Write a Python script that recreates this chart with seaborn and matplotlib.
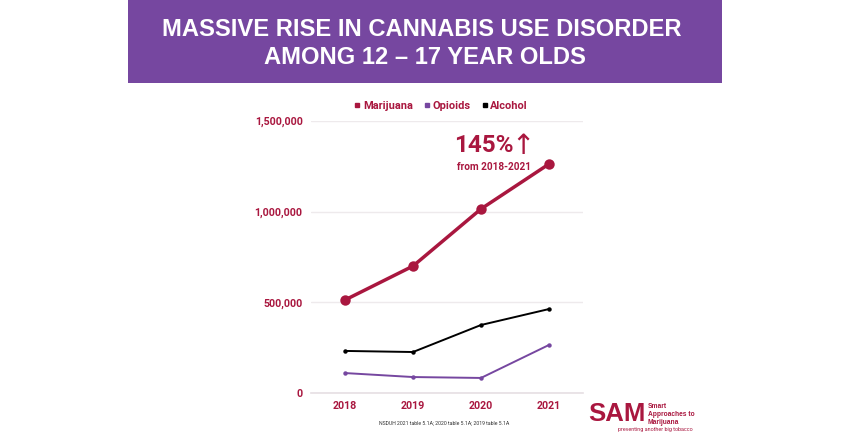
import pandas as pd
import numpy as np
import matplotlib.pyplot as plt
import seaborn as sns
from matplotlib.patches import Rectangle
from matplotlib.lines import Line2D

years = ['2018', '2019', '2020', '2021']
marijuana = [513000, 700000, 1015000, 1263000]
opioids = [110000, 88000, 83000, 265000]
alcohol = [232000, 226000, 375000, 463000]
y_ticks = [0, 500000, 1000000, 1500000]

RED = '#a9173f'
PURPLE = '#7647a0'
BLACK = '#000000'

sns.set_theme(style='white')
plt.rcParams['font.family'] = ['Roboto', 'DejaVu Sans']

df = pd.DataFrame({
    'year': years * 3,
    'value': marijuana + opioids + alcohol,
    'drug': ['Marijuana'] * 4 + ['Opioids'] * 4 + ['Alcohol'] * 4,
})

W, H = 850, 445
fig = plt.figure(figsize=(8.5, 4.45), dpi=100, facecolor='white')

# Header band
fig.add_artist(Rectangle((128 / W, 1 - 83 / H), 594 / W, 83 / H, transform=fig.transFigure,
                         facecolor=PURPLE, edgecolor='none'))
fig.text(422 / W, 1 - 29 / H, 'MASSIVE RISE IN CANNABIS USE DISORDER', color='white',
         family='Liberation Sans', fontweight='bold', fontsize=17.1, ha='center', va='center')
fig.text(425 / W, 1 - 57 / H, 'AMONG 12 – 17 YEAR OLDS', color='white',
         family='Liberation Sans', fontweight='bold', fontsize=17.1, ha='center', va='center')

ax = fig.add_axes([311 / W, 1 - 393 / H, 272 / W, 272 / H])
sns.lineplot(data=df[df.drug == 'Alcohol'], x='year', y='value', color=BLACK, lw=1.4,
             marker='o', markersize=3.2, markeredgewidth=0, ax=ax, errorbar=None)
sns.lineplot(data=df[df.drug == 'Opioids'], x='year', y='value', color=PURPLE, lw=1.4,
             marker='o', markersize=3.2, markeredgewidth=0, ax=ax, errorbar=None)
sns.lineplot(data=df[df.drug == 'Marijuana'], x='year', y='value', color=RED, lw=2.5,
             marker='o', markersize=7.5, markeredgewidth=0, ax=ax, errorbar=None)

ax.set_xlim(-0.5, 3.5)
ax.set_ylim(0, 1500000)
ax.set_yticks(y_ticks)
ax.set_yticklabels([f'{v:,}' for v in y_ticks])
ax.set_xlabel('')
ax.set_ylabel('')
ax.grid(axis='y', color='#eeeaec', lw=1)
ax.set_axisbelow(True)
ax.tick_params(axis='both', length=0, labelsize=7.7, labelcolor=RED)
ax.tick_params(axis='y', pad=6)
ax.tick_params(axis='x', pad=6)
for lab in ax.get_xticklabels() + ax.get_yticklabels():
    lab.set_fontweight('bold')
sns.despine(ax=ax, left=True, top=True, right=True, bottom=False)
ax.spines['bottom'].set_color('#e6dfe3')
ax.spines['bottom'].set_linewidth(1.2)

# Legend
legend_names = ['Marijuana', 'Opioids', 'Alcohol']
legend_handles = [Line2D([], [], ls='', marker='s', ms=2.8, color=c) for c in [RED, PURPLE, BLACK]]
fig.legend(legend_handles, legend_names, ncol=3, frameon=False,
           loc='center', bbox_to_anchor=(440 / W, 1 - 106 / H),
           handletextpad=0.0, columnspacing=0.8, handlelength=1.0, labelcolor=RED,
           prop={'weight': 'bold', 'size': 7.9})

# Callout
fig.text(454 / W, 1 - 146 / H, '145%', color=RED, fontweight='bold', fontsize=17.5, va='center')
fig.text(523 / W, 1 - 146 / H, '↑', color=RED, family=['DejaVu Sans'], fontsize=20,
         ha='center', va='center')
fig.text(494 / W, 1 - 167 / H, 'from 2018-2021', color=RED, fontweight='bold', fontsize=7.2,
         ha='center', va='center')

# Source
fig.text(444 / W, 1 - 424 / H, 'NSDUH 2021 table 5.1A; 2020 table 5.1A; 2019 table 5.1A',
         color='#333333', fontsize=3.7, ha='center', va='center')

# Logo
fig.text(588 / W, 1 - 414 / H, 'SAM', color=RED, family='Liberation Sans',
         fontweight='bold', fontsize=18.5, va='center', ha='left')
for txt, yy in [('Smart', 407), ('Approaches to', 415), ('Marijuana', 423)]:
    fig.text(648 / W, 1 - yy / H, txt, color=RED, family='Liberation Sans', fontweight='bold',
             fontsize=4.8, va='center', ha='left')
fig.text(618 / W, 1 - 430 / H, 'preventing another big tobacco', color=RED, fontsize=3.9,
         va='center', ha='left')

fig.savefig('out.png', dpi=100)
